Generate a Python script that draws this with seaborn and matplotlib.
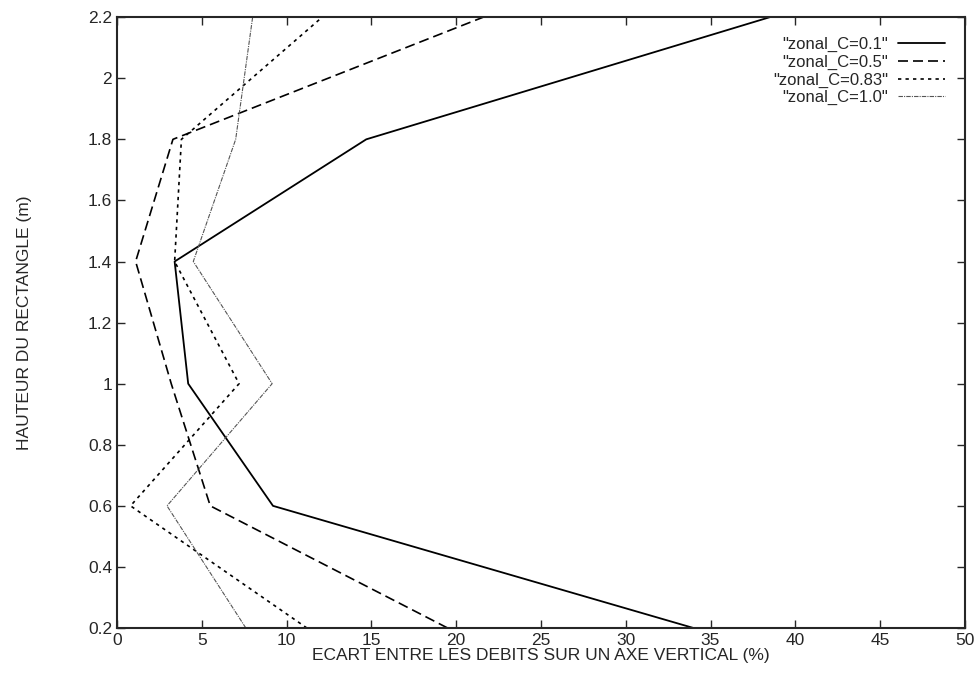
import numpy as np
import pandas as pd
import seaborn as sns
import matplotlib.pyplot as plt

# hauteurs et ecarts
hauteur = [0.2, 0.6, 1.0, 1.4, 1.8, 2.2]
ecart_c01 = [34.0, 9.2, 4.2, 3.4, 14.7, 38.5]
ecart_c05 = [19.5, 5.5, 3.2, 1.1, 3.3, 21.6]
ecart_c083 = [11.2, 0.8, 7.2, 3.4, 3.8, 12.1]
ecart_c10 = [7.6, 2.95, 9.15, 4.5, 7.0, 8.0]
labels = ['"zonal_C=0.1"', '"zonal_C=0.5"', '"zonal_C=0.83"', '"zonal_C=1.0"']

series = [ecart_c01, ecart_c05, ecart_c083, ecart_c10]
df = pd.concat([pd.DataFrame({'ecart': s, 'hauteur': hauteur, 'cas': lab})
                for s, lab in zip(series, labels)])

sns.set_theme(style="ticks")
plt.rcParams['font.family'] = ['Liberation Sans', 'DejaVu Sans']

fig = plt.figure(figsize=(9.78, 6.81), dpi=100)
ax = fig.add_axes([0.1196, 0.0778, 0.867, 0.897])

styles = [dict(color='black', lw=1.3, ls='-'),
          dict(color='black', lw=1.2, ls=(0, (6, 3))),
          dict(color='black', lw=1.2, ls=(0, (2, 2.5))),
          dict(color='#555555', lw=0.8, ls=(0, (4, 1, 1, 1)))]
for lab, st in zip(labels, styles):
    sns.lineplot(data=df[df['cas'] == lab], x='ecart', y='hauteur', sort=False,
                 estimator=None, ax=ax, label=lab, **st)

ax.set_xlim(0, 50)
ax.set_ylim(0.2, 2.2)
ax.set_xticks(np.arange(0, 51, 5))
yt = np.round(np.arange(0.2, 2.21, 0.2), 1)
ax.set_yticks(yt)
ax.set_yticklabels([f'{v:g}' for v in yt])
ax.tick_params(direction='in', top=True, right=True, length=6, width=1, labelsize=12.5)
for sp in ax.spines.values():
    sp.set_linewidth(1.5)
ax.set_xlabel('ECART ENTRE LES DEBITS SUR UN AXE VERTICAL (%)', fontsize=12.5, labelpad=0)
ax.set_ylabel('HAUTEUR DU RECTANGLE (m)', fontsize=12.5, labelpad=40)
ax.legend(loc='upper right', frameon=False, markerfirst=False, fontsize=12,
          handlelength=2.8, labelspacing=0.15, borderaxespad=0.8, handletextpad=0.6)

fig.savefig('out.png', dpi=100)
